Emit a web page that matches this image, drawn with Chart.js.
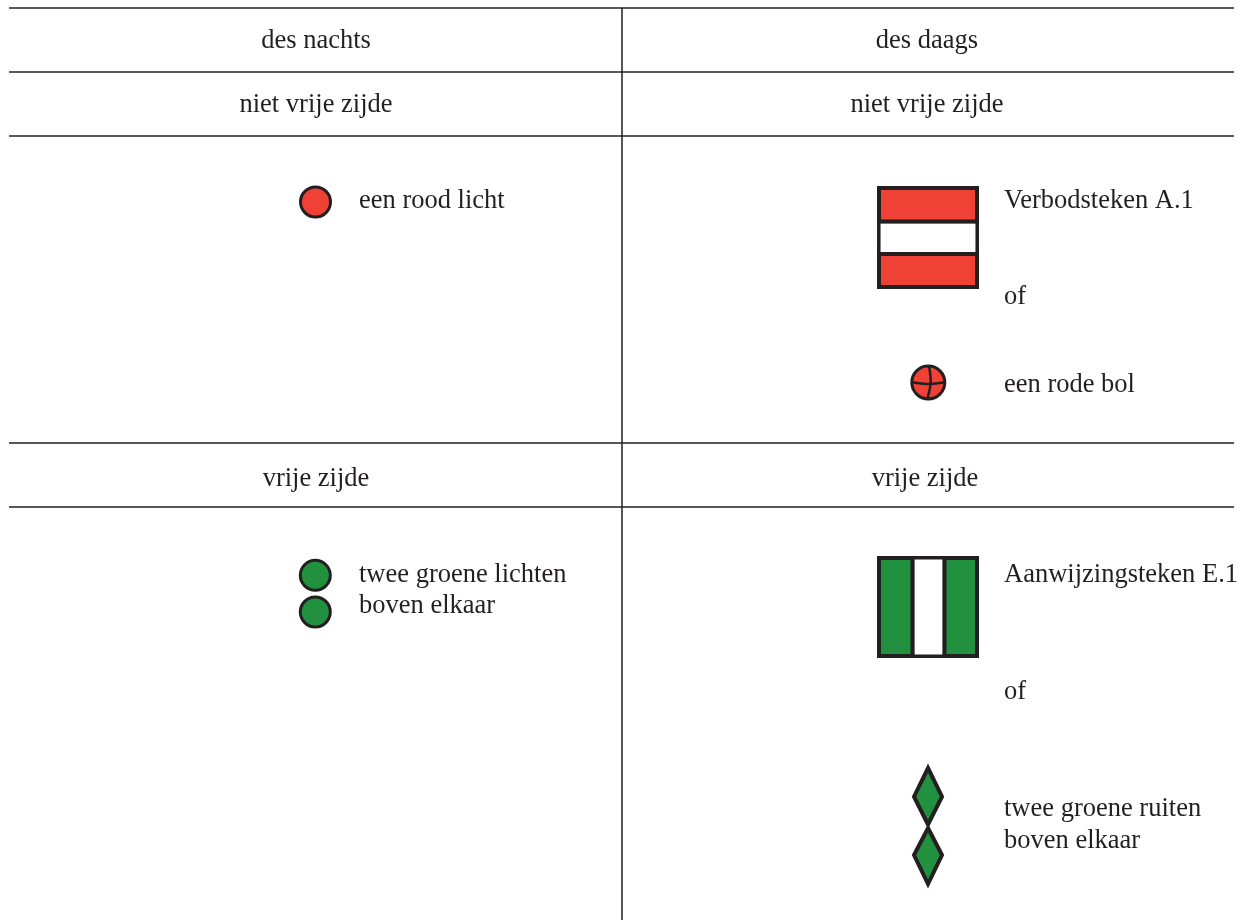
<!DOCTYPE html>
<html>
<head>
<meta charset="utf-8">
<title>Seinen niet vrije zijde en vrije zijde</title>
<script src="https://cdn.jsdelivr.net/npm/chart.js@4"></script>
<style>
    html, body { margin: 0; padding: 0; background: #ffffff; overflow: hidden; }
    #wrap { width: 1247px; height: 920px; }
    canvas { display: block; }
</style>
</head>
<body>
<div id="wrap"><canvas id="signsChart" width="1247" height="920"></canvas></div>
<script>
// table rules
const ruleRows = [8, 72, 136, 443, 507];
const ruleEnds = [9, 1234];
const columnRule = [[622, 8], [622, 920]];

// captions: text, x, y (baseline)
const captionTexts = ["des nachts", "des daags", "niet vrije zijde", "niet vrije zijde", "vrije zijde", "vrije zijde"];
const captionX = [316, 927, 316, 927, 316, 925];
const captionY = [48, 48, 112, 112, 486, 486];

const noteTexts = ["een rood licht", "Verbodsteken A.1", "of", "een rode bol",
    "twee groene lichten", "boven elkaar", "Aanwijzingsteken E.1", "of",
    "twee groene ruiten", "boven elkaar"];
const noteX = [359, 1004, 1004, 1004, 359, 359, 1004, 1004, 1004, 1004];
const noteY = [208, 208, 304, 392, 582, 613, 582, 699, 816, 848];

// round lights and balls
const redLights = [[315.5, 202], [928.3, 382.5]];
const greenLights = [[315.3, 575.3], [315.3, 612]];

// cross on the red ball
const ballCrossH = [[911, 382.3], [928, 384], [946, 382.3]];
const ballCrossV = [[929, 365], [930.7, 382], [927.3, 400]];

// sign A.1 stripes
const signA1Top = [[879, 188], [977, 188], [977, 221.5], [879, 221.5]];
const signA1Middle = [[878.8, 221.5], [977.2, 221.5], [977.2, 254], [878.8, 254]];
const signA1Bottom = [[879, 254], [977, 254], [977, 287], [879, 287]];

// sign E.1 stripes
const signE1Left = [[879, 558], [912.5, 558], [912.5, 656], [879, 656]];
const signE1Middle = [[912.5, 557.7], [944.5, 557.7], [944.5, 656.3], [912.5, 656.3]];
const signE1Right = [[944.5, 558], [977, 558], [977, 656], [944.5, 656]];

// two green diamonds
const diamondTop = [[928, 768], [942, 796.7], [928, 824.5], [914, 796.7]];
const diamondBottom = [[928, 828], [942, 855], [928, 884], [914, 855]];

const INK = "#231f20";
const RED = "#ef4135";
const GREEN = "#21913f";

function toPoints(pairs) {
    return pairs.map(function (p) { return { x: p[0], y: p[1] }; });
}

function lineSet(pairs, width) {
    return {
        type: "scatter", showLine: true, data: toPoints(pairs),
        borderColor: INK, borderWidth: width, pointRadius: 0, fill: false, tension: 0
    };
}

function curveSet(pairs, width) {
    const set = lineSet(pairs, width);
    set.tension = 0.4;
    return set;
}

function shapeSet(pairs, color, width) {
    // go one point past the start so the first corner gets a proper join
    const closed = pairs.concat([pairs[0], pairs[1]]);
    return {
        type: "scatter", showLine: true, data: toPoints(closed),
        borderColor: INK, borderWidth: width, borderJoinStyle: "miter",
        backgroundColor: color, pointRadius: 0, fill: "shape", tension: 0
    };
}

function lightSet(pairs, color, radius, width) {
    return {
        type: "scatter", data: toPoints(pairs), pointStyle: "circle",
        pointRadius: radius, pointBorderWidth: width,
        pointBackgroundColor: color, pointBorderColor: INK, showLine: false
    };
}

// first dataset ends up on top
const datasets = [
    curveSet(ballCrossH, 2.5),
    curveSet(ballCrossV, 2.5),
    lightSet([redLights[0]], RED, 15, 3),
    lightSet([redLights[1]], RED, 16.5, 3),
    lightSet(greenLights, GREEN, 15, 3),
    shapeSet(signA1Top, RED, 4),
    shapeSet(signA1Bottom, RED, 4),
    shapeSet(signE1Left, GREEN, 4),
    shapeSet(signE1Right, GREEN, 4),
    shapeSet(signA1Middle, "#ffffff", 3.5),
    shapeSet(signE1Middle, "#ffffff", 3.5),
    shapeSet(diamondTop, GREEN, 4),
    shapeSet(diamondBottom, GREEN, 4),
    lineSet(columnRule, 1.5)
];
ruleRows.forEach(function (y) {
    datasets.push(lineSet([[ruleEnds[0], y], [ruleEnds[1], y]], 1.5));
});

const textPlugin = {
    id: "tableText",
    afterDatasetsDraw: function (chart) {
        const c = chart.ctx;
        const xs = chart.scales.x;
        const ys = chart.scales.y;
        c.save();
        c.fillStyle = INK;
        c.font = '26.5px "Liberation Serif"';
        c.textBaseline = "alphabetic";
        c.textAlign = "center";
        captionTexts.forEach(function (t, i) {
            c.fillText(t, xs.getPixelForValue(captionX[i]), ys.getPixelForValue(captionY[i]));
        });
        c.textAlign = "left";
        noteTexts.forEach(function (t, i) {
            c.fillText(t, xs.getPixelForValue(noteX[i]), ys.getPixelForValue(noteY[i]));
        });
        c.restore();
    }
};

new Chart(document.getElementById("signsChart").getContext("2d"), {
    type: "scatter",
    data: { datasets: datasets },
    options: {
        responsive: false,
        animation: false,
        layout: { padding: 0, autoPadding: false },
        plugins: { legend: { display: false }, tooltip: { enabled: false } },
        scales: {
            x: { type: "linear", min: 0, max: 1247, display: false },
            y: { type: "linear", min: 0, max: 920, reverse: true, display: false }
        }
    },
    plugins: [textPlugin]
});
</script>
</body>
</html>
